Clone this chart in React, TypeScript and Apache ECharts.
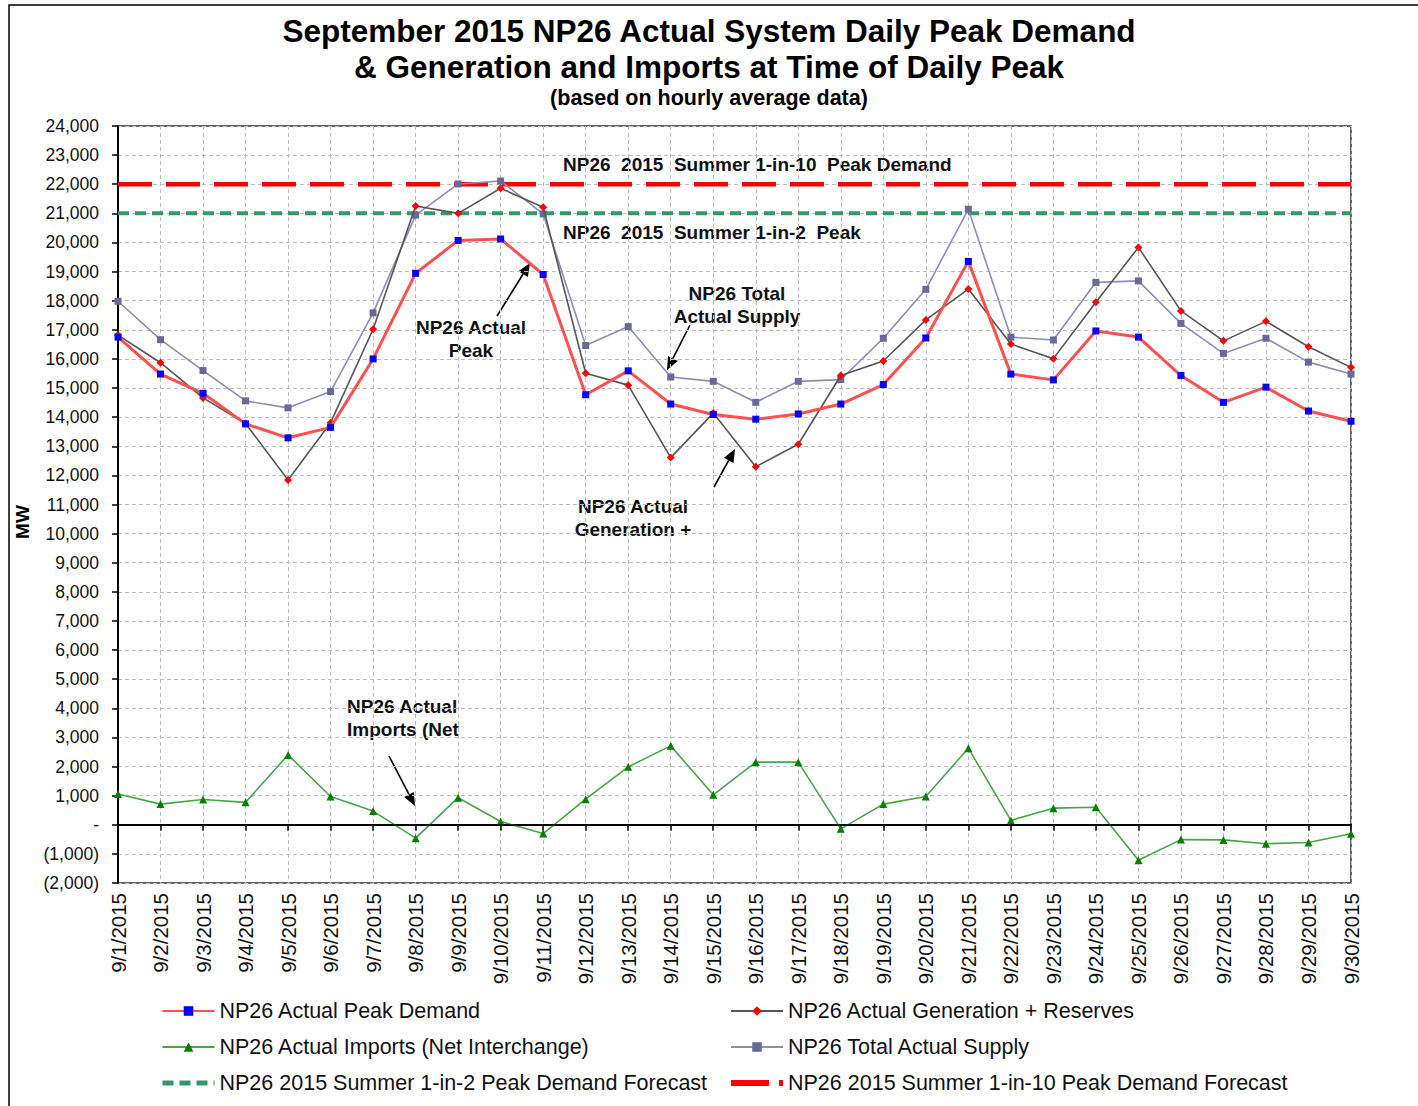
import React, { useEffect, useRef } from "react";
import * as echarts from "echarts";

const categories = [
  "9/1/2015", "9/2/2015", "9/3/2015", "9/4/2015", "9/5/2015", "9/6/2015", "9/7/2015", "9/8/2015",
  "9/9/2015", "9/10/2015", "9/11/2015", "9/12/2015", "9/13/2015", "9/14/2015", "9/15/2015",
  "9/16/2015", "9/17/2015", "9/18/2015", "9/19/2015", "9/20/2015", "9/21/2015", "9/22/2015",
  "9/23/2015", "9/24/2015", "9/25/2015", "9/26/2015", "9/27/2015", "9/28/2015", "9/29/2015",
  "9/30/2015",
];

const peakDemand = [
  16750, 15480, 14820, 13770, 13290, 13650, 16000, 18940, 20070, 20120, 18900, 14770, 15590, 14450,
  14090, 13930, 14110, 14450, 15120, 16720, 19350, 15480, 15280, 16960, 16750, 15430, 14510, 15030,
  14210, 13860,
];

const genReserves = [
  16820, 15870, 14660, 13780, 11840, 13810, 17020, 21250, 21000, 21860, 21210, 15510, 15100, 12610,
  14140, 12300, 13070, 15430, 15930, 17340, 18400, 16510, 16010, 17950, 19830, 17650, 16620, 17290,
  16420, 15710,
];

const importsNet = [
  1060, 710, 870, 770, 2400, 970, 470, -460, 930, 110, -300, 880, 1990, 2710, 1030, 2150, 2150, -140,
  710, 970, 2630, 150, 570, 600, -1220, -510, -520, -650, -610, -310,
];

const totalSupply = [
  17980, 16660, 15600, 14560, 14320, 14880, 17580, 20940, 22010, 22110, 20980, 16460, 17110, 15380,
  15230, 14510, 15230, 15290, 16710, 18390, 21140, 16750, 16650, 18630, 18680, 17220, 16190, 16710,
  15890, 15480,
];

const forecast1in2 = 21000;
const forecast1in10 = 22000;

const FONT = '"Liberation Sans", Arial, sans-serif';

function arrow(x1: number, y1: number, x2: number, y2: number) {
  const ang = Math.atan2(y2 - y1, x2 - x1);
  const L = 13;
  const W = 5.5;
  const c = Math.cos(ang);
  const s = Math.sin(ang);
  const bx = x2 - L * c;
  const by = y2 - L * s;
  const px = -s;
  const py = c;
  return [
    {
      type: "line",
      shape: { x1, y1, x2: bx, y2: by },
      style: { stroke: "#000", lineWidth: 1.6 },
      silent: true,
    },
    {
      type: "polygon",
      shape: {
        points: [
          [x2, y2],
          [bx + W * px, by + W * py],
          [bx - W * px, by - W * py],
        ],
      },
      style: { fill: "#000" },
      silent: true,
    },
  ];
}

function annot(x: number, y: number, text: string, align: string = "center") {
  return {
    type: "text",
    x,
    y,
    silent: true,
    style: {
      text,
      font: `bold 19px ${FONT}`,
      fill: "#111",
      align,
      verticalAlign: "middle",
      lineHeight: 23,
    },
  };
}

function fmtY(v: number) {
  if (v === 0) return "-";
  const s = Math.abs(v).toLocaleString("en-US");
  return v < 0 ? `(${s})` : s;
}

export default function App() {
  const ref = useRef<HTMLDivElement>(null);

  useEffect(() => {
    if (!ref.current) return;
    const chart = echarts.init(ref.current, undefined, { renderer: "svg" });
    const legendText = { fontFamily: FONT, fontSize: 21.5, color: "#111", lineHeight: 22 };
    const titleStyle = { fontFamily: FONT, fontSize: 31.5, fontWeight: "bold", color: "#000", lineHeight: 32 };

    const option: any = {
      animation: false,
      backgroundColor: "#fff",
      title: [
        {
          text: "September 2015 NP26 Actual System Daily Peak Demand",
          left: "center",
          top: 15,
          padding: 0,
          textStyle: titleStyle,
        },
        {
          text: "& Generation and Imports at Time of Daily Peak",
          left: "center",
          top: 51,
          padding: 0,
          textStyle: titleStyle,
        },
        {
          text: "(based on hourly average data)",
          left: "center",
          top: 88,
          padding: 0,
          textStyle: { fontFamily: FONT, fontSize: 21.5, fontWeight: "bold", color: "#000", lineHeight: 20 },
        },
      ],
      grid: {
        left: 118,
        right: 67,
        top: 126,
        bottom: 223,
        show: true,
        borderColor: "#333",
        borderWidth: 1.5,
        containLabel: false,
      },
      legend: [
        {
          orient: "vertical",
          left: 155,
          top: 995,
          itemWidth: 52,
          itemHeight: 12,
          itemGap: 14,
          symbolKeepAspect: false,
          textStyle: legendText,
          data: [
            "NP26 Actual Peak Demand",
            "NP26 Actual Imports (Net Interchange)",
            {
              name: "NP26 2015 Summer 1-in-2 Peak Demand Forecast",
              itemStyle: { opacity: 0 },
              lineStyle: { width: 5, type: [11, 6] },
            },
          ],
        },
        {
          orient: "vertical",
          left: 723,
          top: 995,
          itemWidth: 52,
          itemHeight: 12,
          itemGap: 14,
          symbolKeepAspect: false,
          textStyle: legendText,
          data: [
            "NP26 Actual Generation + Reserves",
            "NP26 Total Actual Supply",
            {
              name: "NP26 2015 Summer 1-in-10 Peak Demand Forecast",
              itemStyle: { opacity: 0 },
              lineStyle: { width: 6, type: [38, 10] },
            },
          ],
        },
      ],
      xAxis: {
        type: "category",
        data: categories,
        boundaryGap: false,
        axisLine: { lineStyle: { color: "#000", width: 2 } },
        axisTick: { show: true, length: 6, inside: false, lineStyle: { color: "#000", width: 1.5 } },
        axisLabel: {
          rotate: 90,
          interval: 0,
          margin: 10,
          fontFamily: FONT,
          fontSize: 20.5,
          color: "#111",
        },
        splitLine: { show: true, lineStyle: { color: "#bdbdbd", type: [4, 3], width: 1 } },
      },
      yAxis: {
        type: "value",
        min: -2000,
        max: 24000,
        interval: 1000,
        axisLine: { show: true, lineStyle: { color: "#000", width: 2 } },
        axisTick: { show: true, length: 6, lineStyle: { color: "#000", width: 1.5 } },
        axisLabel: {
          formatter: fmtY,
          margin: 19,
          fontFamily: FONT,
          fontSize: 17.5,
          color: "#111",
        },
        splitLine: { show: true, lineStyle: { color: "#bdbdbd", type: [4, 3], width: 1 } },
      },
      series: [
        {
          name: "NP26 2015 Summer 1-in-2 Peak Demand Forecast",
          type: "line",
          data: categories.map(() => forecast1in2),
          showSymbol: false,
          symbol: "none",
          lineStyle: { color: "#339966", width: 4, type: [11, 6] },
          itemStyle: { color: "#339966" },
          silent: true,
          z: 2,
        },
        {
          name: "NP26 2015 Summer 1-in-10 Peak Demand Forecast",
          type: "line",
          data: categories.map(() => forecast1in10),
          showSymbol: false,
          symbol: "none",
          lineStyle: { color: "#ff0000", width: 4.5, type: [34, 14] },
          itemStyle: { color: "#ff0000" },
          silent: true,
          z: 2,
        },
        {
          name: "NP26 Total Actual Supply",
          type: "line",
          data: totalSupply,
          symbol: "rect",
          symbolSize: 7,
          lineStyle: { color: "#8c8cb8", width: 1.6 },
          itemStyle: { color: "#68689a" },
          z: 3,
        },
        {
          name: "NP26 Actual Generation + Reserves",
          type: "line",
          data: genReserves,
          symbol: "diamond",
          symbolSize: 8,
          lineStyle: { color: "#555555", width: 1.6 },
          itemStyle: { color: "#ff0000" },
          z: 4,
        },
        {
          name: "NP26 Actual Imports (Net Interchange)",
          type: "line",
          data: importsNet,
          symbol: "triangle",
          symbolSize: 8,
          lineStyle: { color: "#44a844", width: 1.6 },
          itemStyle: { color: "#008000" },
          z: 4,
          markLine: {
            silent: true,
            symbol: "none",
            label: { show: false },
            lineStyle: { color: "#000", width: 1.6, type: "solid" },
            data: [{ yAxis: 0 }],
          },
        },
        {
          name: "NP26 Actual Peak Demand",
          type: "line",
          data: peakDemand,
          symbol: "rect",
          symbolSize: 7,
          lineStyle: { color: "#ff4f4f", width: 3 },
          itemStyle: { color: "#0000ff" },
          z: 5,
        },
      ],
      graphic: [
        {
          type: "rect",
          shape: { x: 9, y: 5, width: 1430, height: 1130 },
          style: { fill: "none", stroke: "#000", lineWidth: 1.5 },
          silent: true,
          z: 100,
        },
        {
          type: "text",
          x: 22,
          y: 522,
          rotation: Math.PI / 2,
          silent: true,
          style: {
            text: "MW",
            font: `bold 19px ${FONT}`,
            fill: "#000",
            align: "center",
            verticalAlign: "middle",
          },
        },
        annot(563, 164, "NP26  2015  Summer 1-in-10  Peak Demand", "left"),
        annot(563, 232, "NP26  2015  Summer 1-in-2  Peak", "left"),
        annot(471, 339, "NP26 Actual\nPeak"),
        annot(737, 305, "NP26 Total\nActual Supply"),
        annot(633, 518, "NP26 Actual\nGeneration +"),
        annot(347, 718, "NP26 Actual\nImports (Net", "left"),
        ...arrow(497, 316, 530, 263),
        ...arrow(690, 325, 667, 370),
        ...arrow(714, 487, 735, 449),
        ...arrow(389, 756, 415, 806),
      ],
    };

    chart.setOption(option);
    return () => chart.dispose();
  }, []);

  return (
    <div
      ref={ref}
      style={{ position: "absolute", left: 0, top: 0, width: 1418, height: 1106, background: "#fff" }}
    />
  );
}
